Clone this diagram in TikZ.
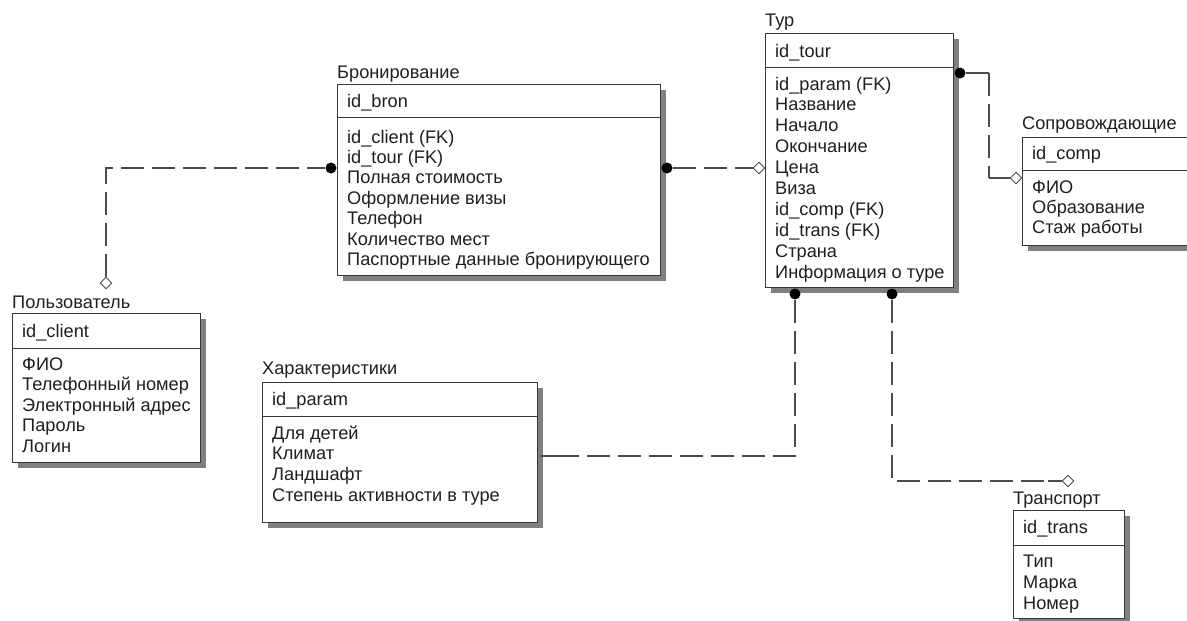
\documentclass[tikz,border=0pt]{standalone}
\usepackage{fontspec}
\setmainfont{Liberation Sans}
\usetikzlibrary{calc,shadows,shapes.geometric}
\begin{document}
\begin{tikzpicture}[x=1pt,y=-1pt,
  ent/.style={draw=black!78, line width=1pt, fill=white, rectangle, inner sep=0pt, anchor=north west,
    drop shadow={shadow xshift=5pt, shadow yshift=-5pt, fill=black!50, opacity=1}},
  sepline/.style={draw=black!78, line width=1pt},
  txt/.style={anchor=base west, inner sep=0pt, font=\fontsize{18.2}{20}\selectfont, text=black!88},
  conn/.style={draw=black!70, line width=1.3pt, dash pattern=on 23pt off 8pt},
  stub/.style={draw=black!70, line width=1.3pt},
  dot/.style={circle, fill=black, inner sep=0pt, minimum size=11pt},
  dia/.style={diamond, draw=black!70, fill=white, line width=0.9pt, inner sep=0pt, minimum width=12pt, minimum height=12pt}
]
\useasboundingbox (0,0) rectangle (1187,621);
\clip (0,0) rectangle (1187,621);

% ---------- Пользователь ----------
\node[ent, minimum width=188pt, minimum height=149pt] (user) at (12,313) {};
\draw[sepline] (user.west |- 0,348) -- (user.east |- 0,348);
\node[txt] (user-t) at (12,308) {Пользователь};
\node[txt] (user-k) at (22,337) {id\_client};
\foreach \t [count=\i from 0] in {ФИО, Телефонный номер, Электронный адрес, Пароль, Логин}
  \node[txt] (user-a\i) at (22,370+20.5*\i) {\t};

% ---------- Бронирование ----------
\node[ent, minimum width=323pt, minimum height=191pt] (bron) at (337,84) {};
\draw[sepline] (bron.west |- 0,117) -- (bron.east |- 0,117);
\node[txt] (bron-t) at (337,78) {Бронирование};
\node[txt] (bron-k) at (347,107) {id\_bron};
\foreach \t [count=\i from 0] in {id\_client (FK), id\_tour (FK), Полная стоимость, Оформление визы, Телефон, Количество мест, Паспортные данные бронирующего}
  \node[txt] (bron-a\i) at (347,143+20.4*\i) {\t};

% ---------- Тур ----------
\node[ent, minimum width=188pt, minimum height=254pt] (tour) at (765,33) {};
\draw[sepline] (tour.west |- 0,67) -- (tour.east |- 0,67);
\node[txt] (tour-t) at (765,27) {Тур};
\node[txt] (tour-k) at (775,57) {id\_tour};
\foreach \t [count=\i from 0] in {id\_param (FK), Название, Начало, Окончание, Цена, Виза, id\_comp (FK), id\_trans (FK), Страна, Информация о туре}
  \node[txt] (tour-a\i) at (775,90+20.9*\i) {\t};

% ---------- Сопровождающие ----------
\node[ent, minimum width=190pt, minimum height=108pt] (comp) at (1022,137) {};
\draw[sepline] (comp.west |- 0,170) -- (comp.east |- 0,170);
\node[txt] (comp-t) at (1022,129) {Сопровождающие};
\node[txt] (comp-k) at (1032,159) {id\_comp};
\foreach \t [count=\i from 0] in {ФИО, Образование, Стаж работы}
  \node[txt] (comp-a\i) at (1032,193+20*\i) {\t};

% ---------- Характеристики ----------
\node[ent, minimum width=275pt, minimum height=140pt] (char) at (262,382) {};
\draw[sepline] (char.west |- 0,416) -- (char.east |- 0,416);
\node[txt] (char-t) at (262,374) {Характеристики};
\node[txt] (char-k) at (272,405) {id\_param};
\foreach \t [count=\i from 0] in {Для детей, Климат, Ландшафт, Степень активности в туре}
  \node[txt] (char-a\i) at (272,439+20.7*\i) {\t};

% ---------- Транспорт ----------
\node[ent, minimum width=111pt, minimum height=108pt] (trans) at (1013,510) {};
\draw[sepline] (trans.west |- 0,545) -- (trans.east |- 0,545);
\node[txt] (trans-t) at (1013,504) {Транспорт};
\node[txt] (trans-k) at (1023,533) {id\_trans};
\foreach \t [count=\i from 0] in {Тип, Марка, Номер}
  \node[txt] (trans-a\i) at (1023,567+21*\i) {\t};

% ---------- connector end symbols ----------
\node[dia] (d1) at (106,283) {};
\node[dot] (p1) at (331,168) {};
\node[dot] (p2) at (667,168) {};
\node[dia] (d2) at (759,168) {};
\node[dot] (p3) at (960,73) {};
\node[dia] (d3) at (1016,178) {};
\node[dot] (p4) at (795,294) {};
\coordinate (c4) at (540,456);
\node[dot] (p5) at (892,294) {};
\node[dia] (d5) at (1068,481) {};

% ---------- connectors ----------
% Пользователь -- Бронирование
\draw[conn] (d1.north) |- (p1.west);
\draw[stub] (d1.north) -- ++(0,-12);
\draw[stub] (p1.west) -- ++(-16,0);
% Бронирование -- Тур
\draw[conn] (p2.east) -- (d2.west);
\draw[stub] (p2.east) -- ++(12,0);
\draw[stub] (d2.west) -- ++(-14,0);
% Тур -- Сопровождающие
\draw[stub] (p3.east) -- (989,73);
\draw[conn] (989,73) -- (989,178);
\draw[stub] (989,178) -- (d3.west);
% Тур -- Характеристики
\draw[conn] (p4.south) |- (c4);
\draw[stub] (p4.south) -- ++(0,10);
\draw[stub] (c4) -- ++(16,0);
% Тур -- Транспорт
\draw[conn] (p5.south) |- (d5.west);
\draw[stub] (p5.south) -- ++(0,10);
\draw[stub] (d5.west) -- ++(-14,0);
\end{tikzpicture}
\end{document}
